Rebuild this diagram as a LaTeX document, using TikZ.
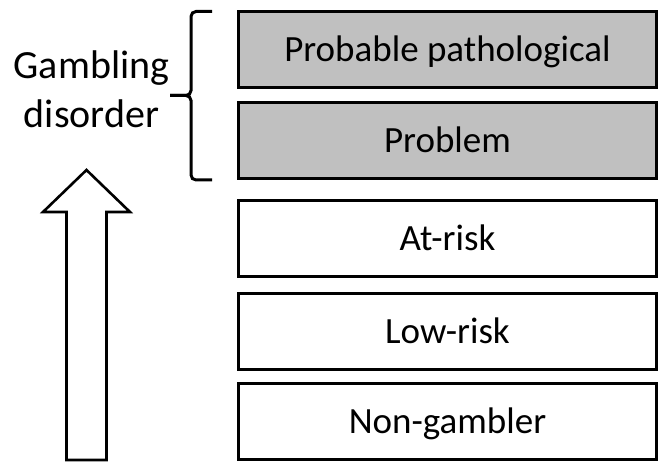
\documentclass[tikz,border=0pt]{standalone}
\usepackage{fontspec}
\setmainfont{Carlito}
\definecolor{boxgray}{RGB}{192,192,192}
\begin{document}
\begin{tikzpicture}[x=1bp,y=-1bp,
  level/.style={draw,line width=3bp,minimum width=418bp,minimum height=76bp,inner sep=0pt,
    text height=24bp,text depth=0bp,font=\fontsize{37bp}{44bp}\selectfont},
  disorder/.style={level,fill=boxgray},
  lbl/.style={anchor=base,inner sep=0pt,font=\fontsize{40bp}{48bp}\selectfont},
  bracket/.style={line width=3bp,rounded corners=5bp,line cap=butt},
  uparrow/.style={draw,line width=2.6bp,line join=miter,fill=white}]
\useasboundingbox (0,0) rectangle (659,462);
\node[disorder] (pp) at (447.5,50) {Probable pathological};
\node[disorder] (pr) at (447.5,141) {Problem};
\node[level] (ar) at (447.5,238.5) {At-risk};
\node[level] (lr) at (447.5,331.5) {Low-risk};
\node[level] (ng) at (447.5,421.5) {Non-gambler};
\node[lbl] (g1) at (91.5,79) {Gambling};
\node[lbl] (g2) at (91.5,128) {disorder};
\coordinate (bt) at (212,11.5);
\coordinate (bm) at (170,95.5);
\coordinate (bb) at (212,180);
\draw[bracket] (bt) -- (191,11.5) -- (191,95.5) -- (bm);
\draw[bracket] (bm) -- (191,95.5) -- (191,180) -- (bb);
\path[uparrow] (66.5,460) -- (66.5,212) -- (43,212) -- (86.5,170) -- (130,212) -- (106.5,212) -- (106.5,460) -- cycle;
\end{tikzpicture}
\end{document}
